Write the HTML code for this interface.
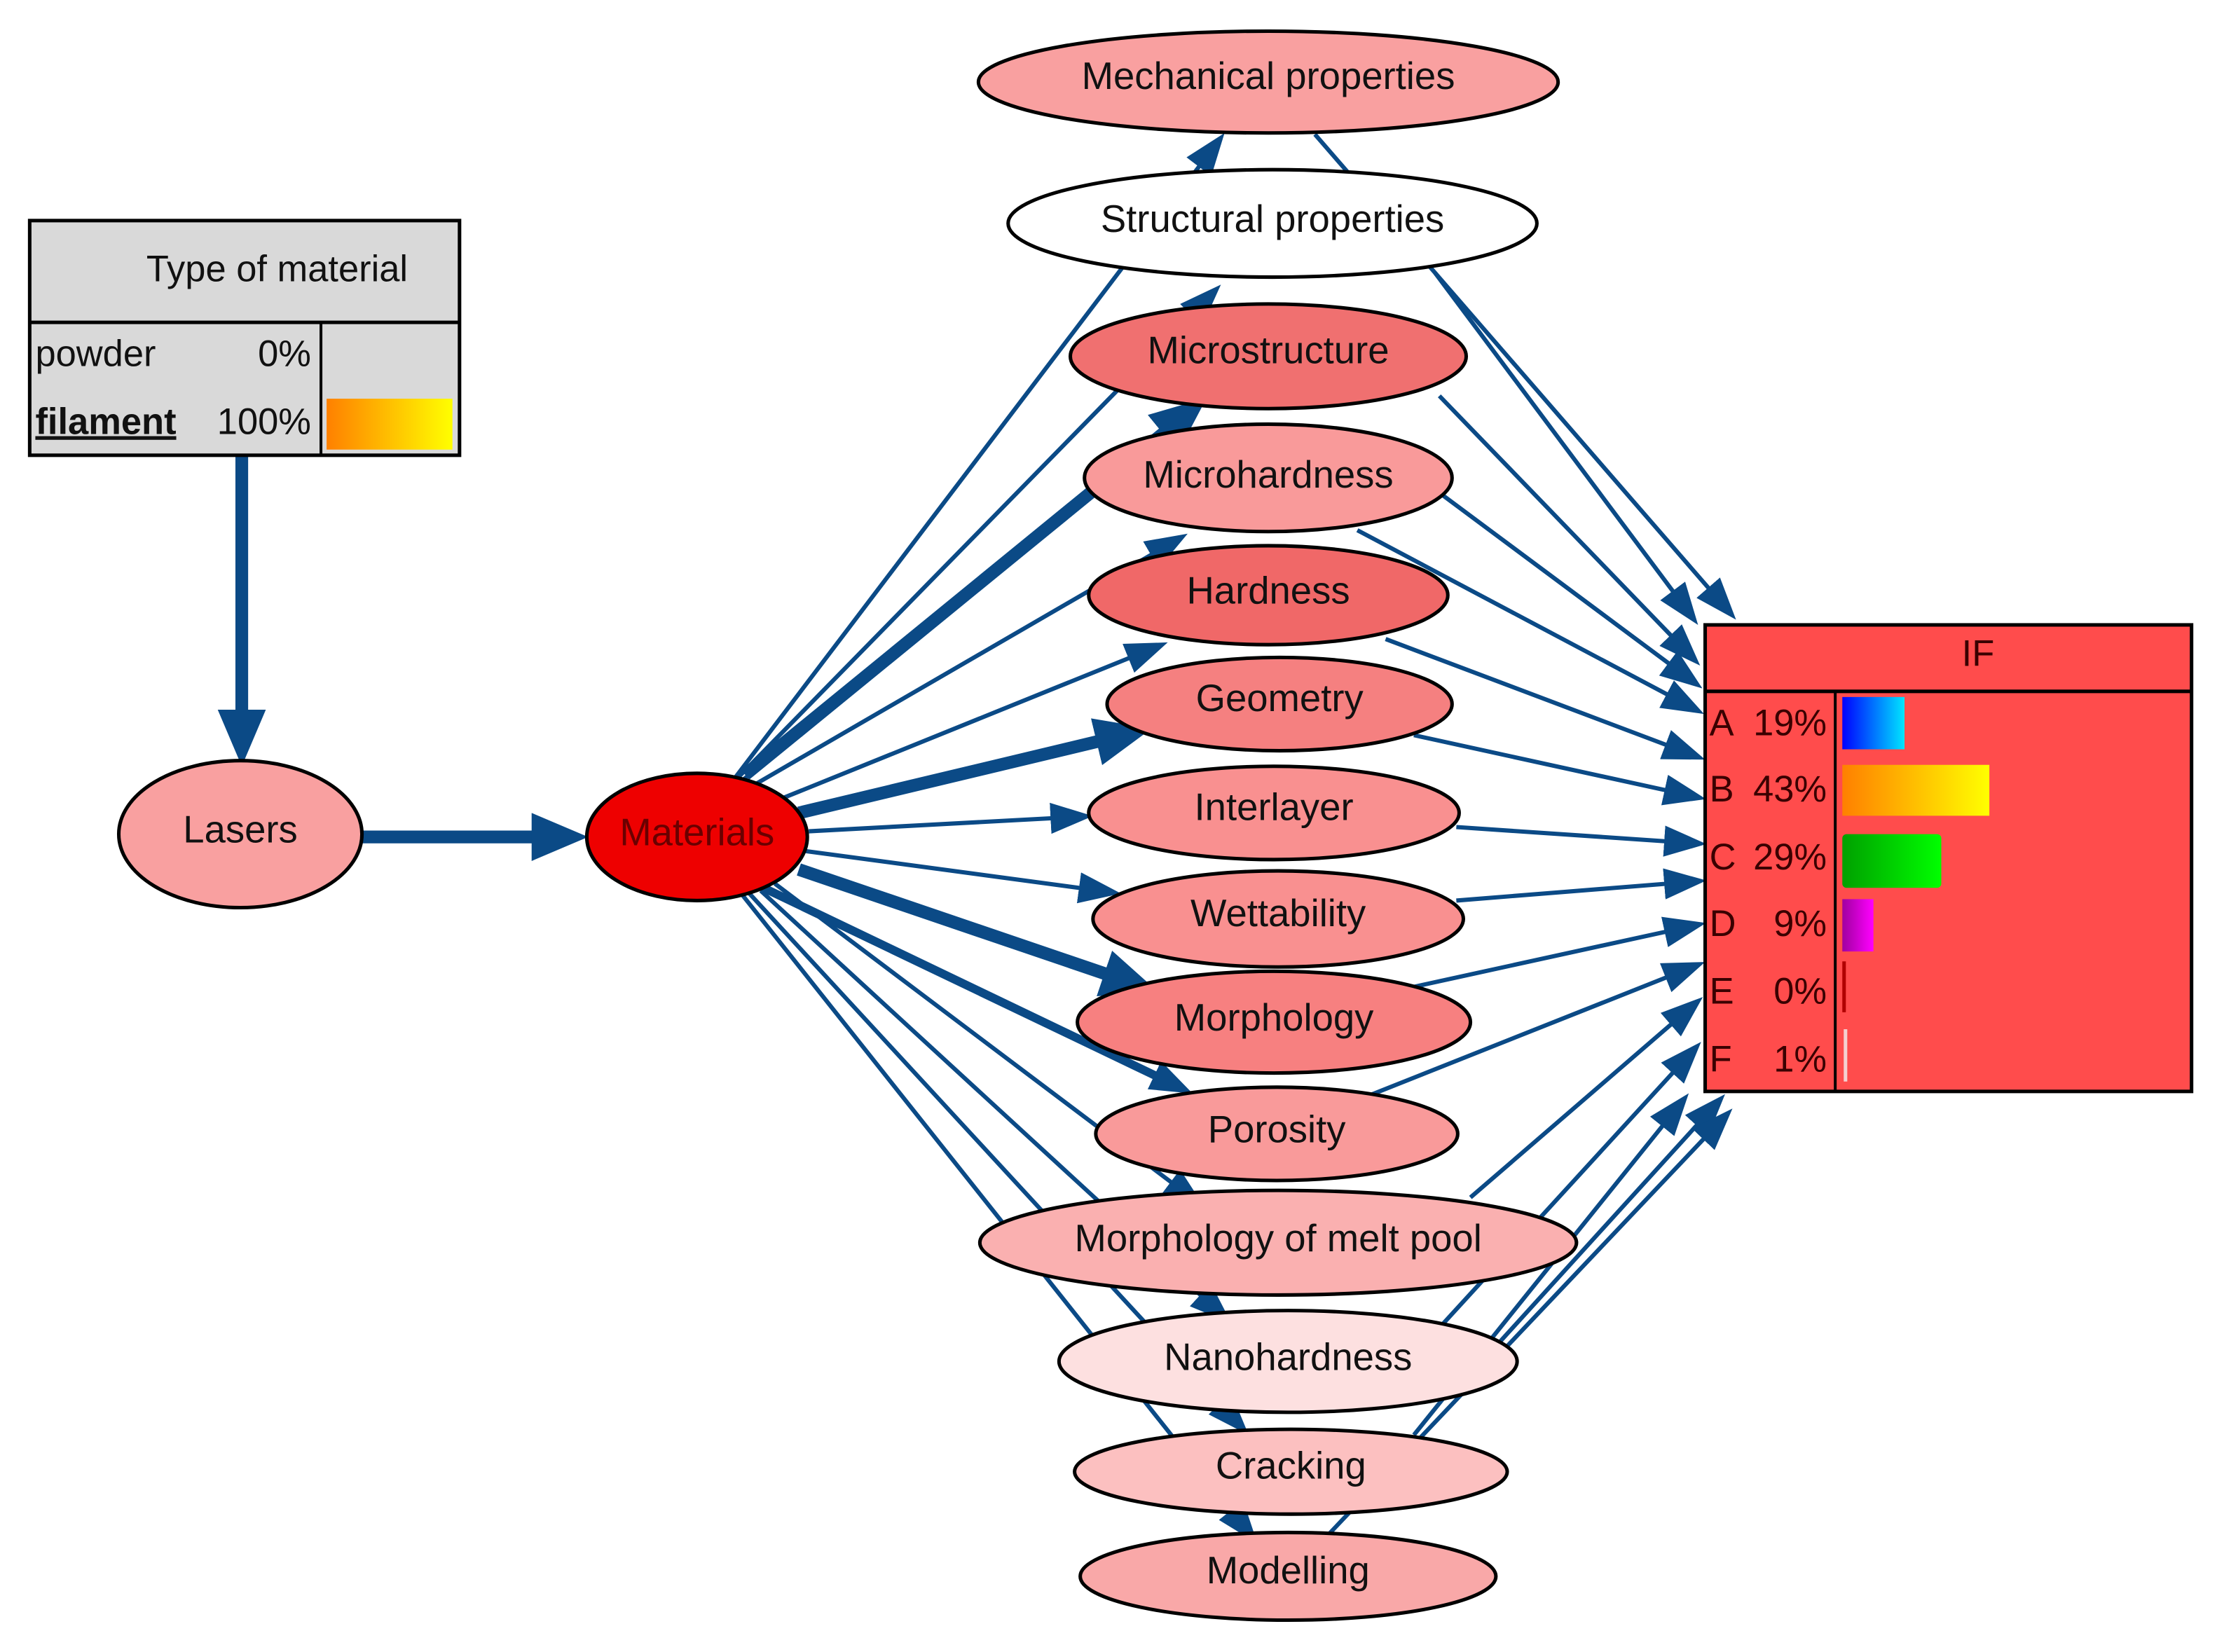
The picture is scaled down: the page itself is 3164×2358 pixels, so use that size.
<!DOCTYPE html>
<html><head><meta charset="utf-8"><style>
html,body{margin:0;padding:0;background:#fff}
svg{display:block}
text{font-family:"Liberation Sans",Arial,sans-serif}
</style></head><body>
<svg width="3164" height="2358" viewBox="0 0 1568 1168.5" xmlns="http://www.w3.org/2000/svg">
<defs>
<marker id="a" markerUnits="userSpaceOnUse" viewBox="0 0 30 22" refX="15" refY="11" markerWidth="30" markerHeight="22" orient="auto"><path d="M0,0 L30,11 L0,22 Z" fill="#0b4a86"/></marker>
<marker id="b" markerUnits="userSpaceOnUse" viewBox="0 0 40 34" refX="20" refY="17" markerWidth="40" markerHeight="34" orient="auto"><path d="M0,0 L40,17 L0,34 Z" fill="#0b4a86"/></marker>
<linearGradient id="go" x1="0" x2="1"><stop offset="0" stop-color="#ff8000"/><stop offset="1" stop-color="#ffff00"/></linearGradient>
<linearGradient id="gb" x1="0" x2="1"><stop offset="0" stop-color="#0000ff"/><stop offset="1" stop-color="#00e5ff"/></linearGradient>
<linearGradient id="gg" x1="0" x2="1"><stop offset="0" stop-color="#00a000"/><stop offset="1" stop-color="#00ff00"/></linearGradient>
<linearGradient id="gm" x1="0" x2="1"><stop offset="0" stop-color="#a000a0"/><stop offset="1" stop-color="#ff00ff"/></linearGradient>
</defs>
<g stroke="#0b4a86" fill="none">
<!-- Type -> Lasers, Lasers -> Materials -->
<line x1="171" y1="322" x2="171" y2="522" stroke-width="9" marker-end="url(#b)"/>
<line x1="256" y1="592" x2="396" y2="592" stroke-width="9" marker-end="url(#b)"/>
<!-- Materials -> nodes -->
<g stroke-width="3" marker-end="url(#a)">
<line x1="520" y1="550" x2="857" y2="106"/>
<line x1="522" y1="550" x2="853" y2="212"/>
<line x1="525" y1="552" x2="837" y2="298"/>
<line x1="532" y1="556" x2="827" y2="385"/>
<line x1="545" y1="568" x2="812" y2="460"/>
<line x1="572" y1="588" x2="758" y2="578"/>
<line x1="570" y1="602" x2="778" y2="630"/>
<line x1="548" y1="625" x2="840" y2="845"/>
<line x1="538" y1="630" x2="860" y2="926"/>
<line x1="530" y1="632" x2="873" y2="1004"/>
<line x1="525" y1="633" x2="880" y2="1080"/>
</g>
<g stroke-width="9" marker-end="url(#b)">
<line x1="527" y1="548" x2="838" y2="294"/>
<line x1="565" y1="575" x2="795" y2="520"/>
<line x1="565" y1="615" x2="800" y2="695"/>
</g>
<line x1="540" y1="628" x2="830" y2="767" stroke-width="6" marker-end="url(#a)"/>
<!-- nodes -> IF -->
<g stroke-width="3" marker-end="url(#a)">
<line x1="930" y1="95" x2="1218" y2="427"/>
<line x1="1015" y1="193" x2="1192" y2="430"/>
<line x1="1018" y1="280" x2="1192" y2="460"/>
<line x1="1020" y1="350" x2="1192" y2="478"/>
<line x1="960" y1="375" x2="1192" y2="498"/>
<line x1="980" y1="452" x2="1192" y2="532"/>
<line x1="1000" y1="520" x2="1192" y2="562"/>
<line x1="1030" y1="585" x2="1192" y2="596"/>
<line x1="1030" y1="637" x2="1192" y2="624"/>
<line x1="1000" y1="698" x2="1192" y2="656"/>
<line x1="968" y1="775" x2="1192" y2="686"/>
<line x1="1040" y1="847" x2="1193" y2="715"/>
<line x1="1020" y1="937" x2="1193" y2="748"/>
<line x1="1060" y1="950" x2="1210" y2="785"/>
<line x1="1000" y1="1015" x2="1185" y2="785"/>
<line x1="940" y1="1085" x2="1215" y2="795"/>
</g>
</g>
<!-- Nodes -->
<g stroke="#000" stroke-width="2.5">
<ellipse cx="897" cy="58" rx="205" ry="36" fill="#f9a0a0"/>
<ellipse cx="900" cy="158" rx="187" ry="38" fill="#fff"/>
<ellipse cx="897" cy="252" rx="140" ry="37" fill="#f07070"/>
<ellipse cx="897" cy="338" rx="130" ry="38" fill="#f99a9a"/>
<ellipse cx="897" cy="421" rx="127" ry="35" fill="#f06868"/>
<ellipse cx="905" cy="498" rx="122" ry="33" fill="#f58080"/>
<ellipse cx="901" cy="575" rx="131" ry="33" fill="#f99090"/>
<ellipse cx="904" cy="650" rx="131" ry="34" fill="#f99090"/>
<ellipse cx="901" cy="723" rx="139" ry="36" fill="#f78080"/>
<ellipse cx="903" cy="802" rx="128" ry="33" fill="#f99a9a"/>
<ellipse cx="904" cy="879" rx="211" ry="37" fill="#fab0b0"/>
<ellipse cx="911" cy="963" rx="162" ry="36" fill="#fde0e0"/>
<ellipse cx="913" cy="1041" rx="153" ry="30" fill="#fcc0c0"/>
<ellipse cx="911" cy="1115" rx="147" ry="31" fill="#f9a8a8"/>
<ellipse cx="170" cy="590" rx="86" ry="52" fill="#f9a0a0"/>
<ellipse cx="493" cy="592" rx="78" ry="45" fill="#ee0000"/>
</g>
<g font-size="27" fill="#111" text-anchor="middle">
<text x="897" y="63">Mechanical properties</text>
<text x="900" y="164">Structural properties</text>
<text x="897" y="257">Microstructure</text>
<text x="897" y="345">Microhardness</text>
<text x="897" y="427">Hardness</text>
<text x="905" y="503">Geometry</text>
<text x="901" y="580">Interlayer</text>
<text x="904" y="655">Wettability</text>
<text x="901" y="729">Morphology</text>
<text x="903" y="808">Porosity</text>
<text x="904" y="885">Morphology of melt pool</text>
<text x="911" y="969">Nanohardness</text>
<text x="913" y="1046">Cracking</text>
<text x="911" y="1120">Modelling</text>
<text x="170" y="596">Lasers</text>
<text x="493" y="598" fill="#6a0000">Materials</text>
</g>
<!-- Type of material box -->
<rect x="21" y="156" width="304" height="166" fill="#d9d9d9" stroke="#000" stroke-width="2.5"/>
<line x1="21" y1="228" x2="325" y2="228" stroke="#000" stroke-width="2.5"/>
<line x1="227" y1="228" x2="227" y2="322" stroke="#000" stroke-width="2"/>
<g font-size="26" fill="#111">
<text x="196" y="199" text-anchor="middle">Type of material</text>
<text x="25" y="259">powder</text>
<text x="220" y="259" text-anchor="end">0%</text>
<text x="25" y="307" font-weight="bold" text-decoration="underline">filament</text>
<text x="220" y="307" text-anchor="end">100%</text>
</g>
<rect x="231" y="282" width="89" height="36" fill="url(#go)"/>
<!-- IF box -->
<rect x="1206" y="442" width="344" height="330" fill="#ff4c4c" stroke="#000" stroke-width="2.5"/>
<line x1="1206" y1="489" x2="1550" y2="489" stroke="#000" stroke-width="2.5"/>
<line x1="1298" y1="489" x2="1298" y2="772" stroke="#000" stroke-width="2"/>
<g font-size="26" fill="#3a0000">
<text x="1399" y="471" text-anchor="middle">IF</text>
<text x="1209" y="520">A</text><text x="1292" y="520" text-anchor="end">19%</text>
<text x="1209" y="567">B</text><text x="1292" y="567" text-anchor="end">43%</text>
<text x="1209" y="615">C</text><text x="1292" y="615" text-anchor="end">29%</text>
<text x="1209" y="662">D</text><text x="1292" y="662" text-anchor="end">9%</text>
<text x="1209" y="710">E</text><text x="1292" y="710" text-anchor="end">0%</text>
<text x="1209" y="758">F</text><text x="1292" y="758" text-anchor="end">1%</text>
</g>
<rect x="1303" y="493" width="44" height="37" fill="url(#gb)"/>
<rect x="1303" y="541" width="104" height="36" fill="url(#go)"/>
<rect x="1303" y="590" width="70" height="38" rx="3" fill="url(#gg)"/>
<rect x="1303" y="636" width="22" height="37" fill="url(#gm)"/>
<rect x="1303" y="680" width="2.5" height="36" fill="#b00000"/>
<rect x="1304" y="728" width="2.5" height="37" fill="#f4d0d0"/>
</svg>
</body></html>
